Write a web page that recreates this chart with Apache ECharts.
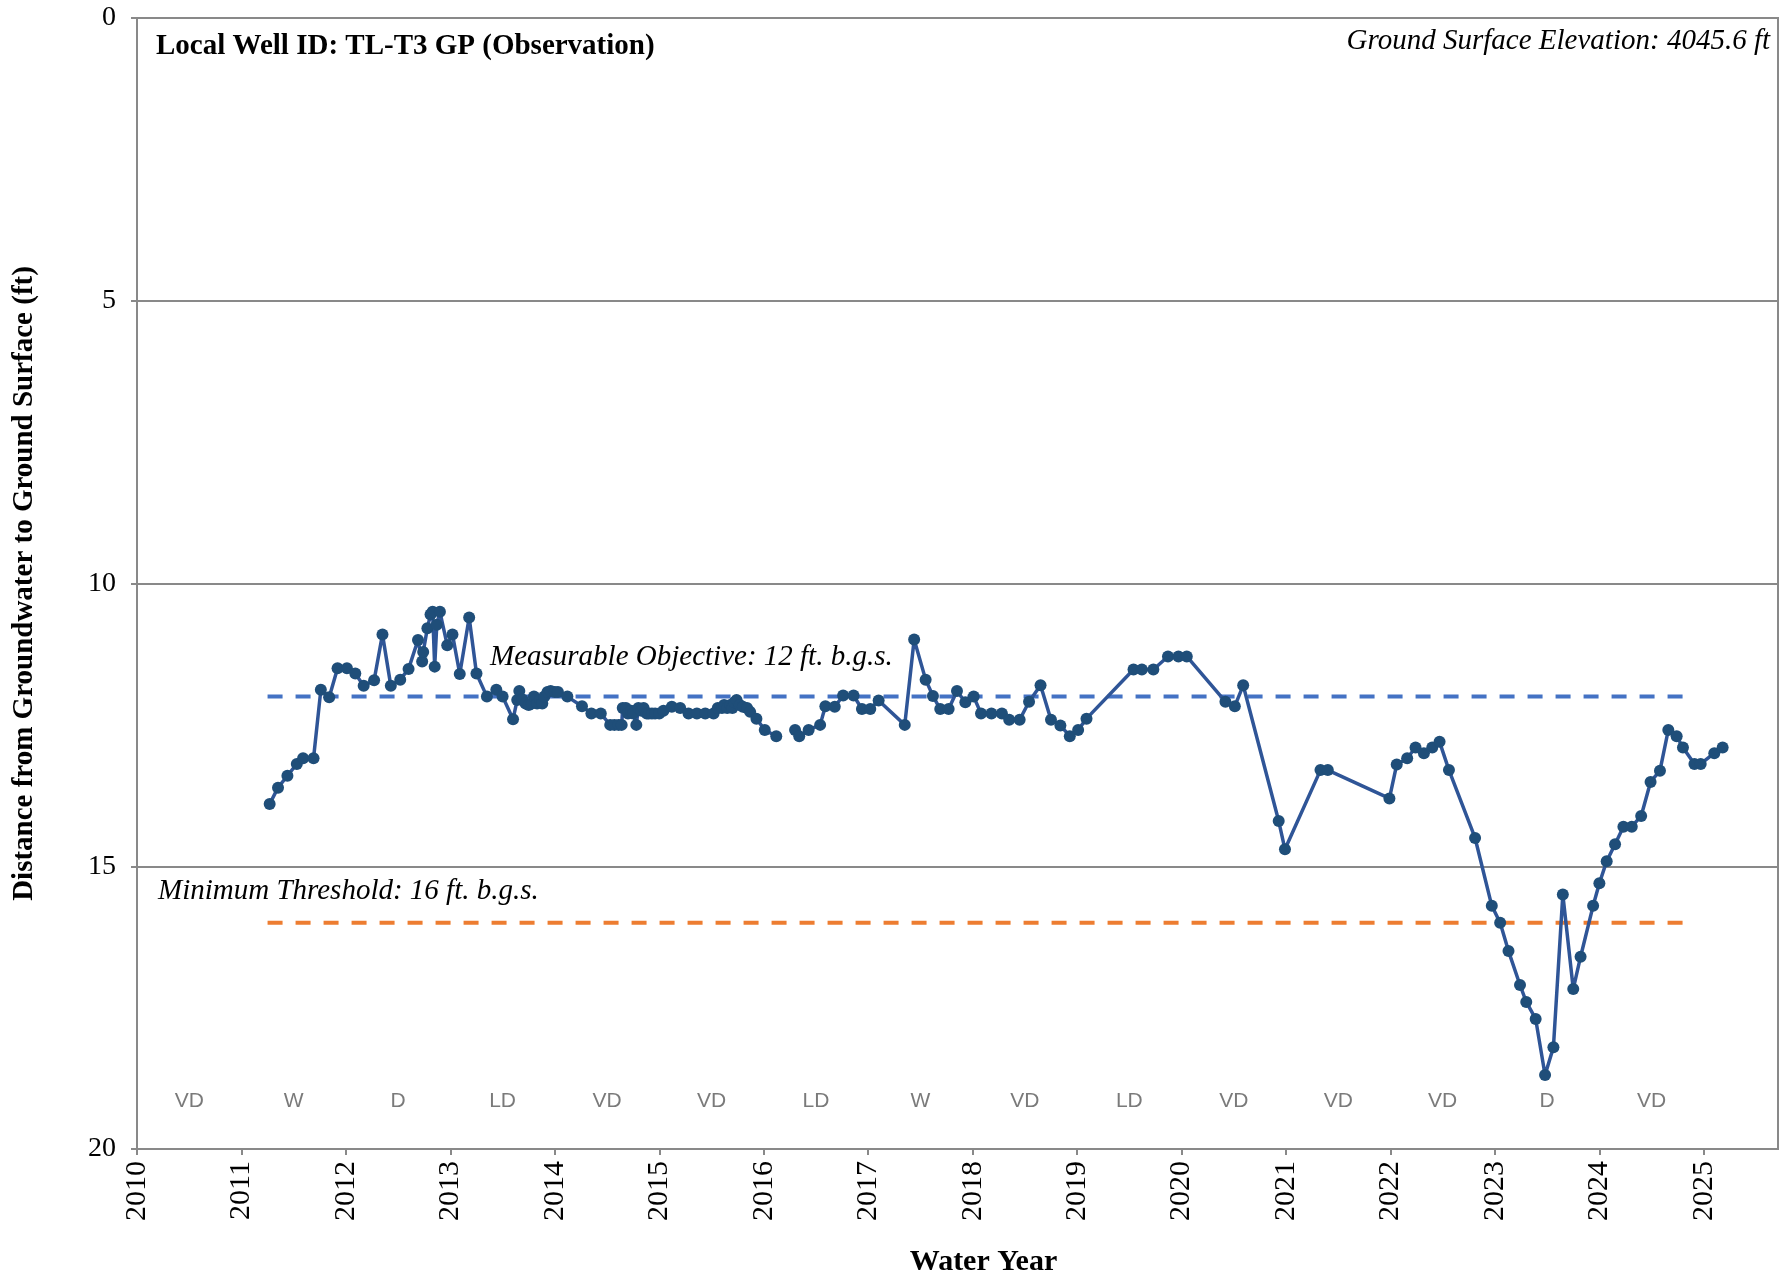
<!DOCTYPE html>
<html>
<head>
<meta charset="utf-8">
<title>TL-T3 GP</title>
<script src="https://cdn.jsdelivr.net/npm/echarts@6/dist/echarts.min.js"></script>
<style>
  html, body { margin: 0; padding: 0; background: #fff; }
  #chart { width: 1787px; height: 1283px; }
</style>
</head>
<body>
<div id="chart"></div>
<script>
// measurement dates (decimal water year) and depth to groundwater (ft b.g.s.)
var years = [
  2011.27, 2011.35, 2011.44, 2011.53, 2011.59, 2011.69, 2011.76, 2011.84, 2011.92, 2012.01,
  2012.09, 2012.17, 2012.27, 2012.35, 2012.43, 2012.52, 2012.60, 2012.69, 2012.73, 2012.74,
  2012.78, 2012.81, 2012.83, 2012.85, 2012.87, 2012.90, 2012.97, 2013.02, 2013.09, 2013.18,
  2013.25, 2013.35, 2013.44, 2013.50, 2013.60, 2013.64, 2013.66, 2013.69, 2013.72, 2013.75,
  2013.78, 2013.80, 2013.83, 2013.86, 2013.88, 2013.90, 2013.93, 2013.96, 2014.00, 2014.03,
  2014.12, 2014.26, 2014.35, 2014.44, 2014.53, 2014.57, 2014.61, 2014.64, 2014.65, 2014.68,
  2014.70, 2014.73, 2014.75, 2014.78, 2014.80, 2014.83, 2014.85, 2014.88, 2014.90, 2014.93,
  2014.96, 2015.00, 2015.04, 2015.12, 2015.20, 2015.28, 2015.36, 2015.44, 2015.52, 2015.56,
  2015.60, 2015.62, 2015.65, 2015.68, 2015.70, 2015.72, 2015.74, 2015.77, 2015.80, 2015.84,
  2015.87, 2015.93, 2016.01, 2016.12, 2016.20, 2016.30, 2016.34, 2016.43, 2016.54, 2016.59,
  2016.68, 2016.76, 2016.86, 2016.94, 2017.02, 2017.10, 2017.35, 2017.44, 2017.55, 2017.62,
  2017.69, 2017.77, 2017.85, 2017.93, 2018.01, 2018.08, 2018.18, 2018.28, 2018.35, 2018.45,
  2018.54, 2018.65, 2018.75, 2018.84, 2018.93, 2019.01, 2019.09, 2019.54, 2019.62, 2019.73,
  2019.87, 2019.97, 2020.05, 2020.42, 2020.51, 2020.59, 2020.93, 2020.99, 2021.33, 2021.40,
  2021.99, 2022.06, 2022.16, 2022.24, 2022.32, 2022.40, 2022.47, 2022.56, 2022.81, 2022.97,
  2023.05, 2023.13, 2023.24, 2023.30, 2023.39, 2023.48, 2023.56, 2023.65, 2023.75, 2023.82,
  2023.94, 2024.00, 2024.07, 2024.15, 2024.23, 2024.31, 2024.40, 2024.49, 2024.58, 2024.66,
  2024.74, 2024.80, 2024.91, 2024.97, 2025.10, 2025.18
];
var depths = [
  13.90, 13.61, 13.40, 13.19, 13.09, 13.09, 11.88, 12.01, 11.50, 11.50,
  11.59, 11.81, 11.71, 10.90, 11.81, 11.70, 11.51, 11.00, 11.38, 11.21,
  10.79, 10.55, 10.50, 11.47, 10.73, 10.50, 11.09, 10.90, 11.60, 10.60,
  11.59, 12.00, 11.88, 12.00, 12.40, 12.06, 11.90, 12.05, 12.12, 12.15,
  12.12, 12.00, 12.12, 12.05, 12.12, 12.00, 11.92, 11.90, 11.92, 11.92,
  12.00, 12.17, 12.30, 12.30, 12.50, 12.50, 12.50, 12.50, 12.20, 12.20,
  12.30, 12.25, 12.30, 12.50, 12.20, 12.25, 12.20, 12.30, 12.30, 12.30,
  12.30, 12.30, 12.25, 12.18, 12.20, 12.30, 12.30, 12.30, 12.30, 12.20,
  12.20, 12.15, 12.20, 12.15, 12.20, 12.10, 12.06, 12.15, 12.18, 12.20,
  12.27, 12.39, 12.59, 12.70, null, 12.59, 12.70, 12.59, 12.50, 12.17,
  12.18, 11.98, 11.98, 12.22, 12.22, 12.07, 12.50, 10.99, 11.70, 11.99,
  12.22, 12.22, 11.90, 12.10, 12.00, 12.30, 12.30, 12.30, 12.41, 12.41,
  12.09, 11.80, 12.41, 12.51, 12.70, 12.59, 12.39, 11.52, 11.52, 11.52,
  11.29, 11.29, 11.29, 12.09, 12.17, 11.80, 14.20, 14.70, 13.30, 13.30,
  13.80, 13.20, 13.09, 12.90, 13.00, 12.90, 12.80, 13.30, 14.50, 15.70,
  16.00, 16.50, 17.10, 17.40, 17.70, 18.69, 18.20, 15.50, 17.17, 16.60,
  15.70, 15.30, 14.91, 14.61, 14.30, 14.30, 14.11, 13.51, 13.31, 12.59,
  12.70, 12.90, 13.19, 13.19, 13.00, 12.90
];

// water year types
var wyYears = [2010, 2011, 2012, 2013, 2014, 2015, 2016, 2017, 2018, 2019, 2020, 2021, 2022, 2023, 2024];
var wyTypes = ['VD', 'W', 'D', 'LD', 'VD', 'VD', 'LD', 'W', 'VD', 'LD', 'VD', 'VD', 'VD', 'D', 'VD'];

// sustainable management criteria
var moDepth = 12;
var mtDepth = 16;
var criteriaSpan = [2011.25, 2024.81];

var chart = echarts.init(document.getElementById('chart'));

var serif = 'Liberation Serif, Times New Roman, serif';
var gray = '#898989';

var lineData = years.map(function (y, i) { return [y, depths[i]]; });
var wyData = wyYears.map(function (y, i) { return { value: [y + 0.5, 19.15], name: wyTypes[i] }; });

var option = {
  animation: false,
  grid: {
    left: 137, right: 9, top: 18, bottom: 134,
    show: true,
    borderColor: gray,
    borderWidth: 2
  },
  xAxis: {
    type: 'value',
    min: 2010,
    max: 2025.71,
    interval: 1,
    name: 'Water Year',
    nameLocation: 'middle',
    nameGap: 98,
    nameTextStyle: { fontFamily: serif, fontWeight: 'bold', fontSize: 30, color: '#000', padding: [0, 0, 0, 52] },
    axisLine: { onZero: false, lineStyle: { color: gray, width: 2 } },
    axisTick: { lineStyle: { color: gray, width: 2 }, length: 6 },
    splitLine: { show: false },
    axisLabel: {
      rotate: 90,
      margin: 12,
      fontFamily: serif,
      fontSize: 30,
      color: '#000',
      showMaxLabel: false,
      formatter: function (v) { return v % 1 === 0 ? String(v) : ''; }
    }
  },
  yAxis: {
    type: 'value',
    inverse: true,
    min: 0,
    max: 20,
    interval: 5,
    name: 'Distance from Groundwater to Ground Surface (ft)',
    nameLocation: 'middle',
    nameGap: 98,
    nameTextStyle: { fontFamily: serif, fontWeight: 'bold', fontSize: 29, color: '#000' },
    axisLine: { show: true, onZero: false, lineStyle: { color: gray, width: 2 } },
    axisTick: { show: true, lineStyle: { color: gray, width: 2 }, length: 6 },
    splitLine: { lineStyle: { color: gray, width: 2 } },
    axisLabel: { fontFamily: serif, fontSize: 28, color: '#000', margin: 21 }
  },
  series: [
    {
      // measurable objective
      type: 'line',
      data: [[criteriaSpan[0], moDepth], [criteriaSpan[1], moDepth]],
      symbol: 'none',
      lineStyle: { color: '#4472C4', width: 4, type: [15, 13] },
      z: 1
    },
    {
      // minimum threshold
      type: 'line',
      data: [[criteriaSpan[0], mtDepth], [criteriaSpan[1], mtDepth]],
      symbol: 'none',
      lineStyle: { color: '#ED7D31', width: 4, type: [15, 13] },
      z: 1
    },
    {
      type: 'line',
      data: lineData,
      connectNulls: false,
      symbol: 'circle',
      symbolSize: 12,
      showAllSymbol: true,
      lineStyle: { color: '#2F5597', width: 3.5 },
      itemStyle: { color: '#1F4E79' },
      z: 3
    },
    {
      // water year type labels
      type: 'scatter',
      data: wyData,
      symbolSize: 0,
      label: {
        show: true,
        position: 'inside',
        formatter: '{b}',
        fontFamily: 'Liberation Sans Narrow, Liberation Sans, sans-serif',
        fontSize: 21,
        color: '#595959'
      },
      z: 2
    }
  ],
  graphic: [
    {
      type: 'text', left: 156, top: 32,
      style: { text: 'Local Well ID: TL-T3 GP (Observation)', font: 'bold 29px ' + serif, fill: '#000' }
    },
    {
      type: 'text', right: 17, top: 27,
      style: { text: 'Ground Surface Elevation: 4045.6 ft', font: 'italic 29px ' + serif, fill: '#000' }
    },
    {
      type: 'text', left: 490, top: 643,
      style: { text: 'Measurable Objective: 12 ft. b.g.s.', font: 'italic 29px ' + serif, fill: '#000' }
    },
    {
      type: 'text', left: 158, top: 877,
      style: { text: 'Minimum Threshold: 16 ft. b.g.s.', font: 'italic 29px ' + serif, fill: '#000' }
    }
  ]
};

chart.setOption(option);
</script>
</body>
</html>
